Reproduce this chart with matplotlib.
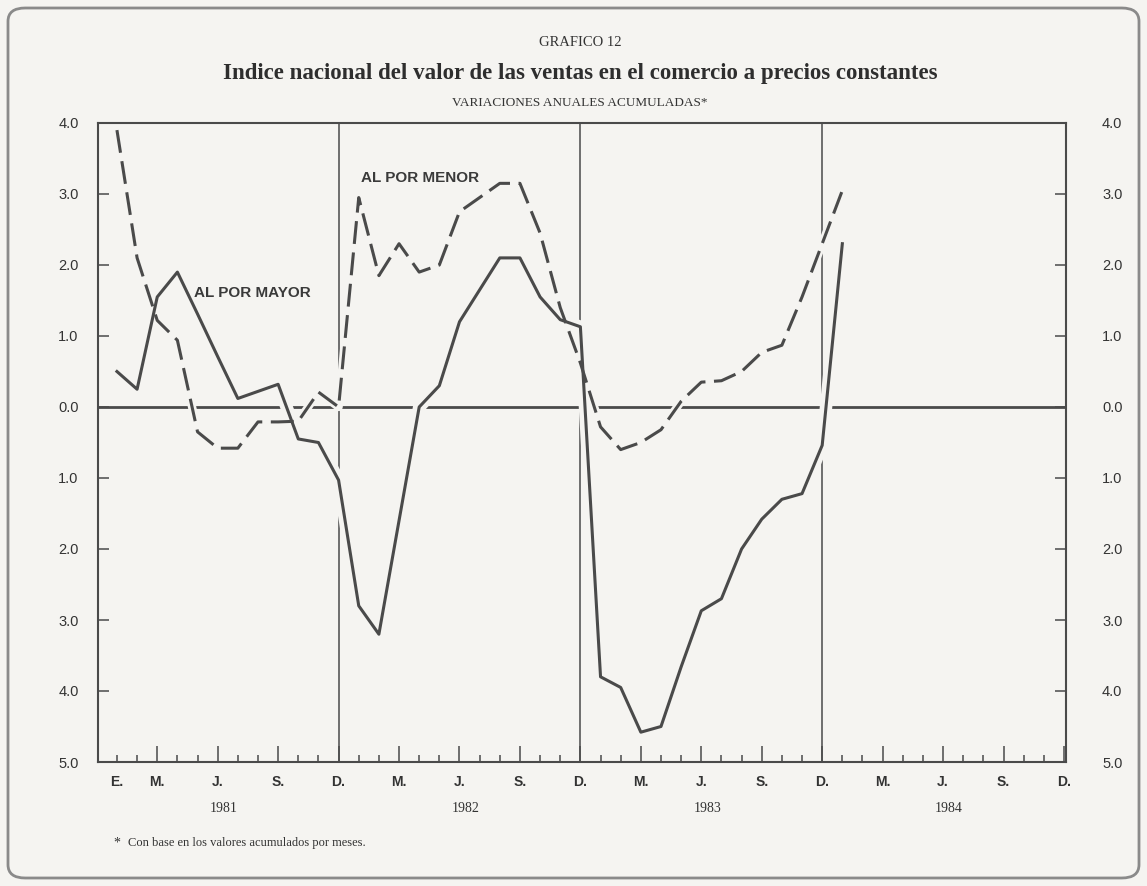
import numpy as np
import matplotlib.pyplot as plt
from matplotlib.patches import FancyBboxPatch

# monthly values, index 0 = enero 1981 (negatives plotted below 0.0)
por_mayor = [0.50, 0.25, 1.55, 1.90, 1.31, 0.71, 0.12, 0.22, 0.32, -0.45, -0.50, -1.03,
             -2.80, -3.20, -1.60, 0.00, 0.30, 1.20, 1.65, 2.10, 2.10, 1.55, 1.23, 1.13,
             -3.80, -3.95, -4.58, -4.50, -3.66, -2.87, -2.70, -2.00, -1.58, -1.30, -1.22, -0.54,
             2.30]
por_menor = [3.90, 2.10, 1.22, 0.94, -0.35, -0.58, -0.58, -0.21, -0.21, -0.20, 0.21, 0.00,
             2.95, 1.85, 2.30, 1.90, 2.00, 2.75, 2.95, 3.15, 3.15, 2.45, 1.40, 0.62,
             -0.28, -0.60, -0.50, -0.32, 0.08, 0.35, 0.37, 0.50, 0.77, 0.87, 1.55, 2.30,
             3.05]
month_labels = ["E.", "M.", "J.", "S.", "D.", "M.", "J.", "S.", "D.",
                "M.", "J.", "S.", "D.", "M.", "J.", "S.", "D."]
label_pos = [0, 2, 5, 8, 11, 14, 17, 20, 23, 26, 29, 32, 35, 38, 41, 44, 47]
years = ["1981", "1982", "1983", "1984"]
y_ticks = [-5, -4, -3, -2, -1, 0, 1, 2, 3, 4]

bg = "#f5f4f1"
ink = "#4a4a4a"
serif = "Liberation Serif"
sans = "Liberation Sans"

W, H = 1147, 886
fig = plt.figure(figsize=(W / 100, H / 100), dpi=100)
fig.patch.set_facecolor(bg)
ax = fig.add_axes([98 / W, 1 - 762 / H, (1066 - 98) / W, (762 - 123) / H])
ax.set_facecolor(bg)
ax.set_xlim(-0.94, 47.1)
ax.set_ylim(-5, 4)

months = np.arange(len(por_mayor))

# reference lines
ax.axhline(0, color=ink, lw=2.0, zorder=1)
for d in [11, 23, 35]:
    ax.axvline(d, color=ink, lw=1.1, zorder=1)

# background halos so the series cut the reference lines like the print
ax.plot(months, por_mayor, color=bg, lw=9, zorder=2, solid_capstyle="butt")
ax.plot(months, por_menor, color=bg, lw=6, zorder=2, solid_capstyle="butt")

ax.plot(months, por_mayor, color=ink, lw=2.2, zorder=3)
ax.plot(months, por_menor, color=ink, lw=2.2, dashes=(7.5, 2.8), zorder=3)

for s in ax.spines.values():
    s.set_color(ink)
    s.set_linewidth(1.5)
    s.set_zorder(4)

# x ticks
ax.set_xticks(label_pos, labels=month_labels)
ax.set_xticks([m for m in range(48) if m not in label_pos], minor=True)
ax.tick_params(axis="x", which="major", direction="in", length=11.5, width=1.1,
               color=ink, pad=9, labelsize=10, labelcolor="#333333")
ax.tick_params(axis="x", which="minor", direction="in", length=5, width=1.1, color=ink)
for lab in ax.get_xticklabels():
    lab.set_family(sans)
    lab.set_fontweight("bold")
ax.xaxis.get_major_ticks()[0].tick1line.set_markersize(5)

# y ticks, both sides
ylabels = ["%.1f" % abs(v) for v in y_ticks]
ax.set_yticks(y_ticks, labels=ylabels)
ax.tick_params(axis="y", direction="in", length=8, width=1.1, color=ink, pad=14,
               labelsize=10.5, labelcolor="#333333")
ax2 = ax.twinx()
ax2.set_ylim(ax.get_ylim())
ax2.set_yticks(y_ticks, labels=ylabels)
ax2.tick_params(axis="y", direction="in", length=8, width=1.1, color=ink, pad=26,
                labelsize=10.5, labelcolor="#333333")
ax2.patch.set_visible(False)
for s in ax2.spines.values():
    s.set_visible(False)
for lab in ax.get_yticklabels() + ax2.get_yticklabels():
    lab.set_family(sans)

# series labels
ax.text(3.8, 1.6, "AL POR MAYOR", fontsize=11, fontweight="bold", family=sans,
        color="#3a3a3a", va="center", ha="left", zorder=5)
ax.text(12.1, 3.22, "AL POR MENOR", fontsize=11, fontweight="bold", family=sans,
        color="#3a3a3a", va="center", ha="left", zorder=5)

# years under the axis
for k, yr in enumerate(years):
    ax.text(5.3 + 12 * k, -46 / 639, yr, transform=ax.get_xaxis_transform(),
            ha="center", va="center", fontsize=10, family=serif, color="#333333")

# titles
fig.text(580 / W, 1 - 42 / H, "GRAFICO 12", ha="center", va="center",
         fontsize=10.5, family=serif, color="#333333")
fig.text(580 / W, 1 - 73 / H,
         "Indice nacional del valor de las ventas en el comercio a precios constantes",
         ha="center", va="center", fontsize=16.5, fontweight="bold", family=serif,
         color="#2e2e2e")
fig.text(580 / W, 1 - 103 / H, "VARIACIONES ANUALES ACUMULADAS*", ha="center",
         va="center", fontsize=9.5, family=serif, color="#333333")

# footnote
fig.text(113 / W, 1 - 843 / H, "*", ha="left", va="center", fontsize=10,
         family=serif, color="#333333")
fig.text(128 / W, 1 - 843 / H, "Con base en los valores acumulados por meses.",
         ha="left", va="center", fontsize=9, family=serif, color="#333333")

# rounded page frame
fig.patches.append(FancyBboxPatch((8 / W, 8 / H), 1 - 16 / W, 1 - 16 / H,
                                  boxstyle="round,pad=0,rounding_size=0.015",
                                  transform=fig.transFigure, fill=False,
                                  ec="#8a8a8a", lw=2))

fig.savefig("out.png", dpi=100, facecolor=bg)
